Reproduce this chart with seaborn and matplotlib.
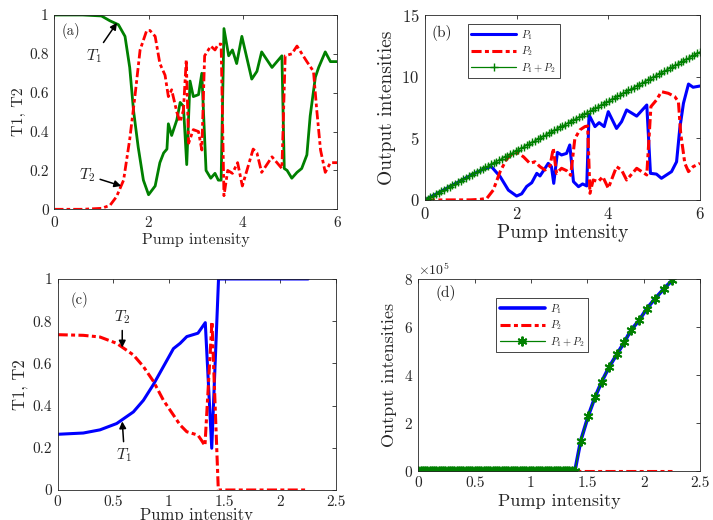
import matplotlib
matplotlib.use("Agg")
import matplotlib.pyplot as plt
import numpy as np
import seaborn as sns

# ---- panel (a): transmissions vs pump ----
t1a_x = [0, 0.6, 1.0, 1.18, 1.36, 1.5, 1.6, 1.68, 1.78, 1.89, 2.0, 2.14, 2.24, 2.32,
         2.39, 2.42, 2.49, 2.6, 2.67, 2.74, 2.81, 2.88, 2.95, 3.06, 3.13, 3.22, 3.32,
         3.41, 3.48, 3.54, 3.60, 3.70, 3.78, 3.87, 3.98, 4.19, 4.30, 4.40, 4.62, 4.83,
         4.88, 4.94, 5.04, 5.15, 5.25, 5.36, 5.43, 5.54, 5.61, 5.75, 5.86, 6.0]
t1a = [1.0, 1.0, 0.995, 0.97, 0.95, 0.89, 0.73, 0.51, 0.32, 0.15, 0.075, 0.12, 0.24, 0.29,
       0.31, 0.44, 0.38, 0.46, 0.55, 0.53, 0.23, 0.66, 0.58, 0.59, 0.70, 0.20, 0.16,
       0.185, 0.15, 0.15, 0.93, 0.79, 0.82, 0.75, 0.89, 0.67, 0.71, 0.81, 0.73, 0.79,
       0.21, 0.20, 0.16, 0.19, 0.21, 0.28, 0.48, 0.68, 0.73, 0.81, 0.76, 0.76]
t2a_x = [0, 0.6, 1.0, 1.18, 1.32, 1.47, 1.6, 1.71, 1.82, 1.96, 2.03, 2.14, 2.24, 2.35,
         2.42, 2.49, 2.6, 2.67, 2.74, 2.80, 2.85, 2.95, 3.06, 3.13, 3.19, 3.32, 3.41,
         3.48, 3.54, 3.60, 3.68, 3.78, 3.89, 3.99, 4.22, 4.30, 4.40, 4.62, 4.83, 4.90,
         5.04, 5.15, 5.36, 5.50, 5.57, 5.65, 5.75, 5.86, 6.0]
t2a = [0, 0, 0.005, 0.02, 0.065, 0.15, 0.36, 0.58, 0.82, 0.92, 0.92, 0.89, 0.75, 0.69,
       0.58, 0.615, 0.50, 0.45, 0.51, 0.77, 0.34, 0.41, 0.40, 0.305, 0.79, 0.84, 0.82,
       0.85, 0.85, 0.07, 0.20, 0.185, 0.24, 0.12, 0.31, 0.29, 0.19, 0.27, 0.21, 0.79,
       0.80, 0.84, 0.76, 0.71, 0.51, 0.305, 0.19, 0.24, 0.24]

# ---- panel (b): output intensities ----
pump_b = np.linspace(0, 6, 101)
total_b = [0.00, 0.12, 0.24, 0.36, 0.48, 0.60, 0.72, 0.84, 0.96, 1.08,
           1.20, 1.32, 1.44, 1.56, 1.68, 1.80, 1.92, 2.04, 2.16, 2.28,
           2.40, 2.52, 2.64, 2.76, 2.88, 3.00, 3.12, 3.24, 3.36, 3.48,
           3.60, 3.72, 3.84, 3.96, 4.08, 4.20, 4.32, 4.44, 4.56, 4.68,
           4.80, 4.92, 5.04, 5.16, 5.28, 5.40, 5.52, 5.64, 5.76, 5.88,
           6.00, 6.12, 6.24, 6.36, 6.48, 6.60, 6.72, 6.84, 6.96, 7.08,
           7.20, 7.32, 7.44, 7.56, 7.68, 7.80, 7.92, 8.04, 8.16, 8.28,
           8.40, 8.52, 8.64, 8.76, 8.88, 9.00, 9.12, 9.24, 9.36, 9.48,
           9.60, 9.72, 9.84, 9.96, 10.08, 10.20, 10.32, 10.44, 10.56, 10.68,
           10.80, 10.92, 11.04, 11.16, 11.28, 11.40, 11.52, 11.64, 11.76, 11.88,
           12.00]
p1b_x = [0, 1.0, 1.3, 1.45, 1.64, 1.82, 2.0, 2.11, 2.22, 2.33, 2.44, 2.51, 2.62, 2.69,
         2.76, 2.81, 2.89, 2.98, 3.09, 3.16, 3.24, 3.35, 3.44, 3.53, 3.58, 3.71, 3.8,
         3.91, 4.0, 4.18, 4.29, 4.4, 4.62, 4.84, 4.92, 5.05, 5.16, 5.27, 5.38, 5.49,
         5.56, 5.64, 5.75, 5.85, 6.0]
p1b = [0, 2.0, 2.55, 2.7, 1.9, 0.8, 0.32, 0.5, 1.1, 1.4, 2.16, 1.95, 2.57, 2.97,
       2.7, 1.35, 3.86, 3.65, 3.78, 4.46, 1.49, 1.08, 1.3, 1.14, 6.9, 5.95, 6.27,
       5.95, 7.16, 5.8, 6.35, 7.3, 6.8, 7.7, 2.16, 2.1, 1.76, 2.03, 2.3, 3.1,
       5.8, 7.84, 9.4, 9.14, 9.24]
p2b_x = [0, 1.0, 1.2, 1.35, 1.49, 1.64, 1.78, 1.93, 2.04, 2.15, 2.29, 2.4, 2.51, 2.62,
         2.73, 2.8, 2.87, 2.98, 3.09, 3.18, 3.27, 3.38, 3.49, 3.55, 3.6, 3.67, 3.78,
         3.88, 4.0, 4.18, 4.29, 4.4, 4.62, 4.84, 4.93, 5.05, 5.16, 5.31, 5.45, 5.53,
         5.58, 5.67, 5.75, 5.85, 6.0]
p2b = [0, 0.01, 0.05, 0.13, 0.8, 2.3, 3.3, 3.84, 3.78, 3.5, 2.97, 3.1, 2.7, 2.43,
       2.78, 4.2, 2.16, 2.57, 2.38, 2.0, 4.97, 5.68, 5.95, 6.0, 0.54, 1.62, 1.49,
       1.89, 0.95, 2.7, 2.43, 1.62, 2.57, 2.03, 7.57, 8.1, 8.78, 8.65, 8.38, 7.97,
       5.4, 2.97, 2.3, 2.7, 2.97]

# ---- panel (c): transmissions, second case ----
t1c_x = [0, 0.23, 0.38, 0.53, 0.68, 0.77, 0.86, 0.95, 1.04, 1.10, 1.16, 1.26, 1.326,
         1.384, 1.445, 2.25]
t1c = [0.264, 0.27, 0.285, 0.315, 0.37, 0.425, 0.50, 0.585, 0.67, 0.695, 0.727, 0.743,
       0.793, 0.198, 1.0, 1.0]
t2c_x = [0, 0.23, 0.38, 0.53, 0.68, 0.77, 0.86, 0.95, 1.04, 1.10, 1.16, 1.26, 1.29,
         1.323, 1.386, 1.443, 2.25]
t2c = [0.736, 0.733, 0.725, 0.695, 0.64, 0.585, 0.515, 0.425, 0.355, 0.308, 0.276, 0.26,
       0.237, 0.21, 0.798, 0.0, 0.0]

# ---- panel (d): output intensities, second case ----
pump_d_low = np.arange(0, 1.38, 0.02)
pump_d_high = [1.39, 1.441, 1.509, 1.568, 1.628, 1.692, 1.761, 1.826, 1.888, 1.959,
               2.027, 2.101, 2.181, 2.254]
total_d_high = [0, 1.25e5, 2.30e5, 3.07e5, 3.72e5, 4.32e5, 4.85e5, 5.35e5, 5.87e5,
                6.27e5, 6.76e5, 7.18e5, 7.60e5, 7.95e5]
pump_d = np.concatenate([pump_d_low, pump_d_high])
total_d = np.concatenate([np.zeros(len(pump_d_low)), total_d_high])
p2d = np.zeros(len(pump_d))

GREEN = "#008000"
RED = "#ff0000"
BLUE = "#0000ff"
DASHDOT = (0, (3.3, 1.1, 1.3, 1.1))   # matlab-ish '-.'
ASTERISK = (6, 2, 0)

sns.set_style("white")
plt.rcParams["font.family"] = ["cmr10", "DejaVu Serif"]
plt.rcParams["mathtext.fontset"] = "cm"
plt.rcParams["axes.formatter.use_mathtext"] = True
plt.rcParams["axes.unicode_minus"] = False

fig = plt.figure(figsize=(7.13, 5.2), dpi=100)
ax_a = fig.add_axes([0.0762, 0.5975, 0.3965, 0.3737])
ax_b = fig.add_axes([0.596, 0.6154, 0.3857, 0.3558])
ax_c = fig.add_axes([0.0809, 0.0577, 0.3903, 0.4058])
ax_d = fig.add_axes([0.5867, 0.0948, 0.3951, 0.3687])


def style_box(ax, tick_size):
    for sp in ax.spines.values():
        sp.set_visible(True)
        sp.set_color("#262626")
        sp.set_linewidth(0.6)
    ax.tick_params(direction="in", top=True, right=True, length=3, width=0.6,
                   labelsize=tick_size, colors="#262626", pad=4)


def line(ax, x, y, **kw):
    sns.lineplot(x=x, y=y, ax=ax, sort=False, estimator=None, **kw)


arrow = dict(arrowstyle="-|>", color="k", lw=1.1, mutation_scale=10, shrinkA=1, shrinkB=0)
legend_kw = dict(loc="upper left", fontsize=7.5, handlelength=4.3, frameon=True,
                 fancybox=False, framealpha=1, edgecolor="#262626", borderpad=0.35,
                 labelspacing=0.28, handletextpad=0.5, borderaxespad=0)

# (a)
line(ax_a, t1a_x, t1a, color=GREEN, lw=2)
line(ax_a, t2a_x, t2a, color=RED, lw=2, linestyle=DASHDOT)
ax_a.set_xlim(0, 6)
ax_a.set_ylim(0, 1)
ax_a.set_xticks([0, 2, 4, 6])
ax_a.set_yticks([0, 0.2, 0.4, 0.6, 0.8, 1])
ax_a.set_yticklabels(["0", "0.2", "0.4", "0.6", "0.8", "1"])
ax_a.set_xlabel("Pump intensity", fontsize=11.5, labelpad=2)
ax_a.set_ylabel("T1, T2", fontsize=11.5, labelpad=2)
ax_a.text(0.025, 0.92, "(a)", transform=ax_a.transAxes, fontsize=10.5, va="center")
ax_a.annotate("$T_1$", xy=(1.33, 0.96), xytext=(0.85, 0.79), fontsize=11.5,
              ha="center", va="center", arrowprops=arrow)
ax_a.annotate("$T_2$", xy=(1.42, 0.12), xytext=(0.7, 0.175), fontsize=11.5,
              ha="center", va="center", arrowprops=arrow)
style_box(ax_a, 11)

# (b)
line(ax_b, p1b_x, p1b, color=BLUE, lw=2.2, label="$P_1$")
line(ax_b, p2b_x, p2b, color=RED, lw=2.2, linestyle=DASHDOT, label="$P_2$")
line(ax_b, pump_b, total_b, color=GREEN, lw=0.9, marker="+", markersize=6,
     markeredgewidth=1.0, markeredgecolor=GREEN, label="$P_1 + P_2$")
ax_b.set_xlim(0, 6)
ax_b.set_ylim(0, 15)
ax_b.set_xticks([0, 2, 4, 6])
ax_b.set_yticks([0, 5, 10, 15])
ax_b.set_xlabel("Pump intensity", fontsize=14, labelpad=2)
ax_b.set_ylabel("Output intensities", fontsize=14, labelpad=4)
ax_b.text(0.025, 0.9, "(b)", transform=ax_b.transAxes, fontsize=11, va="center")
ax_b.legend(bbox_to_anchor=(0.155, 0.95), **legend_kw)
ax_b.get_legend().get_frame().set_linewidth(0.6)
style_box(ax_b, 12)

# (c)
line(ax_c, t1c_x, t1c, color=BLUE, lw=2.2)
line(ax_c, t2c_x, t2c, color=RED, lw=2.2, linestyle=DASHDOT)
ax_c.set_xlim(0, 2.5)
ax_c.set_ylim(0, 1)
ax_c.set_xticks([0, 0.5, 1, 1.5, 2, 2.5])
ax_c.set_xticklabels(["0", "0.5", "1", "1.5", "2", "2.5"])
ax_c.set_yticks([0, 0.2, 0.4, 0.6, 0.8, 1])
ax_c.set_yticklabels(["0", "0.2", "0.4", "0.6", "0.8", "1"])
ax_c.set_xlabel("Pump intensity", fontsize=12, labelpad=-1)
ax_c.set_ylabel("T1, T2", fontsize=12, labelpad=3)
ax_c.text(0.045, 0.9, "(c)", transform=ax_c.transAxes, fontsize=10.5, va="center")
ax_c.annotate("$T_2$", xy=(0.58, 0.675), xytext=(0.58, 0.82), fontsize=11.5,
              ha="center", va="center", arrowprops=arrow)
ax_c.annotate("$T_1$", xy=(0.58, 0.325), xytext=(0.6, 0.165), fontsize=11.5,
              ha="center", va="center", arrowprops=arrow)
style_box(ax_c, 11)

# (d)
line(ax_d, pump_d, total_d, color=BLUE, lw=2.6, label="$P_1$")
line(ax_d, pump_d, p2d, color=RED, lw=2.2, linestyle=DASHDOT, label="$P_2$")
line(ax_d, pump_d, total_d, color=GREEN, lw=0.9, marker=ASTERISK, markersize=7,
     markeredgewidth=1.4, markeredgecolor=GREEN, markerfacecolor=GREEN,
     label="$P_1 + P_2$")
ax_d.set_xlim(0, 2.5)
ax_d.set_ylim(0, 8e5)
ax_d.set_xticks([0, 0.5, 1, 1.5, 2, 2.5])
ax_d.set_xticklabels(["0", "0.5", "1", "1.5", "2", "2.5"])
ax_d.set_yticks([0, 2e5, 4e5, 6e5, 8e5])
ax_d.ticklabel_format(axis="y", style="sci", scilimits=(5, 5), useMathText=True)
ax_d.set_xlabel("Pump intensity", fontsize=13, labelpad=3)
ax_d.set_ylabel("Output intensities", fontsize=13, labelpad=5)
ax_d.text(0.06, 0.925, "(d)", transform=ax_d.transAxes, fontsize=11, va="center")
ax_d.legend(bbox_to_anchor=(0.276, 0.9), **legend_kw)
ax_d.get_legend().get_frame().set_linewidth(0.6)
style_box(ax_d, 11)
ax_d.yaxis.get_offset_text().set_fontsize(10)

fig.savefig("out.png", dpi=100)
